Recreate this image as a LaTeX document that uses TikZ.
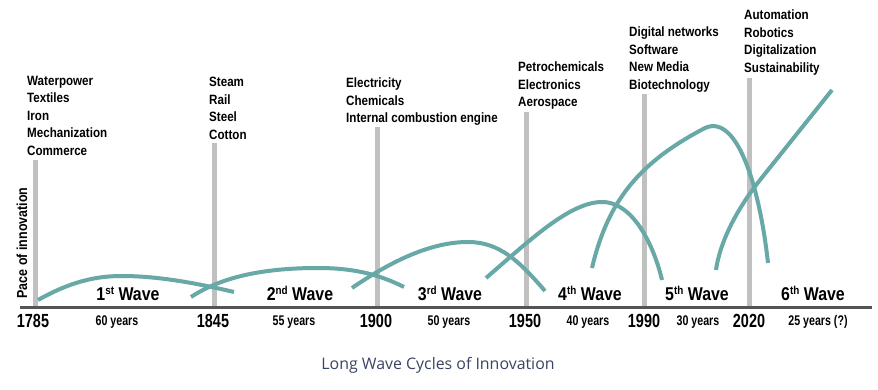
\documentclass[tikz,border=0pt]{standalone}
\usepackage{fontspec}
\setmainfont{Liberation Sans}
\newfontfamily\narrowfont[FakeStretch=0.86]{Liberation Sans}
\newfontfamily\condfont[FakeStretch=0.76]{Liberation Sans}
\newfontfamily\captionfont{Open Sans}
\definecolor{wavecol}{RGB}{104,168,166}
\definecolor{barcol}{RGB}{192,192,192}
\definecolor{axiscol}{RGB}{85,85,85}
\definecolor{capcol}{RGB}{58,68,100}
\newcommand{\ord}[1]{\raisebox{5.5pt}{\fontsize{11.5}{12}\selectfont #1}}
\tikzset{
  wave/.style={wavecol, line width=4pt},
  bar/.style={barcol, line width=5pt},
  field/.style={font=\narrowfont\bfseries\fontsize{13.5}{17.5}\selectfont, align=left, anchor=north west, inner sep=0pt},
  wavelabel/.style={font=\narrowfont\bfseries\fontsize{18.5}{20}\selectfont, anchor=base, inner sep=0pt},
  yearlabel/.style={font=\condfont\bfseries\fontsize{19}{20}\selectfont, anchor=base, inner sep=0pt},
  spanlabel/.style={font=\condfont\bfseries\fontsize{14}{16}\selectfont, anchor=base, inner sep=0pt},
}
\begin{document}
\begin{tikzpicture}[x=1pt, y=-1pt]
  \useasboundingbox[fill=white] (0,0) rectangle (878,390);

  % era bars
  \draw[bar] (35,160) -- (35,306);
  \draw[bar] (214,143) -- (214,306);
  \draw[bar] (377,127) -- (377,306);
  \draw[bar] (526,112) -- (526,306);
  \draw[bar] (644,94) -- (644,306);
  \draw[bar] (749,78) -- (749,306);

  % time axis
  \draw[axiscol, line width=3pt] (20,307) -- (872,307);

  % waves
  \draw[wave] (38,300) .. controls (70,282) and (95,276) .. (122,276) .. controls (160,276) and (200,284) .. (234,292);
  \draw[wave] (191,297) .. controls (220,278) and (260,268) .. (318,268) .. controls (355,268) and (380,275) .. (404,287);
  \draw[wave] (352,288) .. controls (390,262) and (430,242) .. (468,242) .. controls (500,242) and (520,262) .. (545,291);
  \draw[wave] (486,278) .. controls (530,240) and (570,202) .. (602,202) .. controls (635,202) and (655,250) .. (662,280);
  \draw[wave] (592,268) .. controls (608,200) and (640,162) .. (705,128) .. controls (738,113) and (760,190) .. (768,263);
  \draw[wave] (716,270) .. controls (721,235) and (744,200) .. (760,180) -- (832,90);

  % key technologies
  \node[field] (w1) at (27,76) {Waterpower\\Textiles\\Iron\\Mechanization\\Commerce};
  \node[field] (w2) at (209,77) {Steam\\Rail\\Steel\\Cotton};
  \node[field] (w3) at (346,78) {Electricity\\Chemicals\\Internal combustion engine};
  \node[field] (w4) at (518,62) {Petrochemicals\\Electronics\\Aerospace};
  \node[field] (w5) at (629,27) {Digital networks\\Software\\New Media\\Biotechnology};
  \node[field] (w6) at (744,10) {Automation\\Robotics\\Digitalization\\Sustainability};

  % wave names
  \node[wavelabel] (n1) at (128,300) {1\ord{st} Wave};
  \node[wavelabel] (n2) at (300,300) {2\ord{nd} Wave};
  \node[wavelabel] (n3) at (450,300) {3\ord{rd} Wave};
  \node[wavelabel] (n4) at (590,300) {4\ord{th} Wave};
  \node[wavelabel] (n5) at (697,300) {5\ord{th} Wave};
  \node[wavelabel] (n6) at (813,300) {6\ord{th} Wave};

  % years and spans
  \node[yearlabel] (y1785) at (33,327) {1785};
  \node[spanlabel] (s1) at (117,325) {60 years};
  \node[yearlabel] (y1845) at (213,327) {1845};
  \node[spanlabel] (s2) at (294,325) {55 years};
  \node[yearlabel] (y1900) at (376,327) {1900};
  \node[spanlabel] (s3) at (449,325) {50 years};
  \node[yearlabel] (y1950) at (525,327) {1950};
  \node[spanlabel] (s4) at (588,325) {40 years};
  \node[yearlabel] (y1990) at (644,327) {1990};
  \node[spanlabel] (s5) at (698,325) {30 years};
  \node[yearlabel] (y2020) at (749,327) {2020};
  \node[spanlabel] (s6) at (818,325) {25 years (?)};

  \node[font=\narrowfont\bfseries\fontsize{14.5}{16}\selectfont, rotate=90, inner sep=0pt] (pace) at (22,243) {Pace of innovation};
  \node[font=\captionfont\fontsize{15.9}{18}\selectfont, text=capcol, inner sep=0pt] (caption) at (438,365) {Long Wave Cycles of Innovation};
\end{tikzpicture}
\end{document}
